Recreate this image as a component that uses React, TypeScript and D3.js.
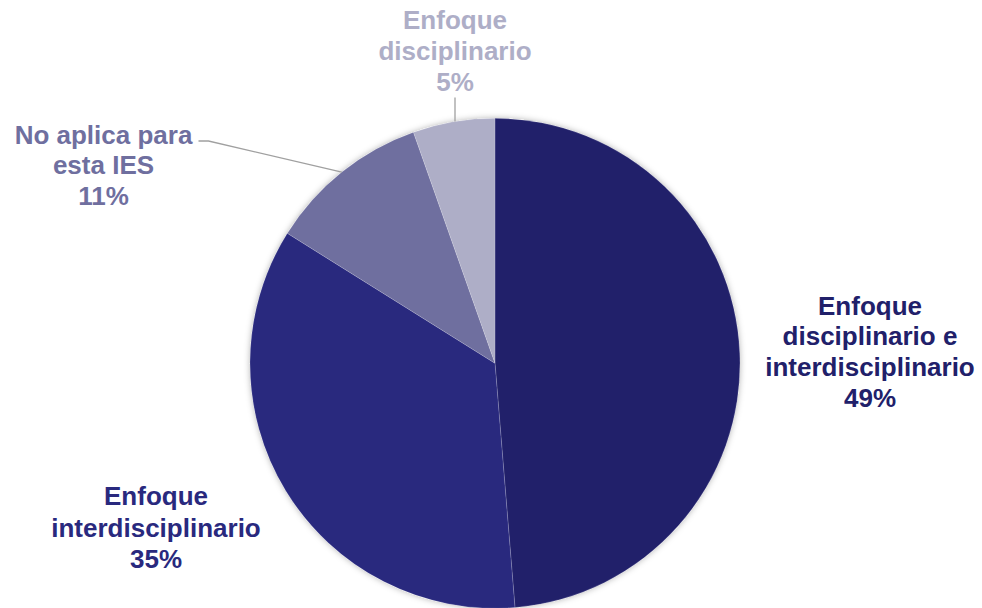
import React from "react";
import * as d3 from "d3";

const categories = [
  "Enfoque disciplinario e interdisciplinario",
  "Enfoque interdisciplinario",
  "No aplica para esta IES",
  "Enfoque disciplinario",
];
const values = [48.7, 35.2, 10.7, 5.4];
const labelLines = [
  ["Enfoque", "disciplinario e", "interdisciplinario"],
  ["Enfoque", "interdisciplinario"],
  ["No aplica para", "esta IES"],
  ["Enfoque", "disciplinario"],
];
const sliceColors = ["#21206a", "#29297e", "#6f6f9f", "#aeaec7"];

// layout
const W = 982;
const H = 608;
const CX = 495;
const CY = 363.3;
const R = 245;
const FONT = 26;
const labelLayout = [
  { x: 870, y: 314.5, lh: 30.8 },
  { x: 156, y: 505, lh: 31.6 },
  { x: 103.5, y: 143.5, lh: 30.5 },
  { x: 455, y: 28.5, lh: 31 },
];
const fmt = d3.format(".0f");

export default function App() {
  const pie = d3
    .pie<number>()
    .sort(null)
    .value((d) => d)
    .startAngle(0)
    .endAngle(2 * Math.PI);
  const arcs = pie(values);
  const arc = d3.arc<d3.PieArcDatum<number>>().innerRadius(0).outerRadius(R);

  // leader line for slice 3: from label to pie edge at the slice's mid angle
  const a3 = arcs[2];
  const mid3 = (a3.startAngle + a3.endAngle) / 2;
  const p3: [number, number] = [CX + R * Math.sin(mid3), CY - R * Math.cos(mid3)];
  const l3 = labelLayout[2];
  const leader3 = d3.line()([
    [l3.x + 95, l3.y - 2.5],
    [l3.x + 105, l3.y - 2.5],
    p3,
  ] as [number, number][]);

  // leader line for slice 4: vertical drop from label to pie edge
  const l4 = labelLayout[3];
  const lx4 = l4.x;
  const ly4 = CY - Math.sqrt(R * R - (lx4 - CX) * (lx4 - CX));
  const leader4 = d3.line()([
    [lx4, l4.y + 2 * l4.lh + 7],
    [lx4, ly4],
  ] as [number, number][]);

  return (
    <svg
      width={W}
      height={H}
      style={{ position: "absolute", left: 0, top: 0, background: "#fff" }}
      fontFamily="'Liberation Sans', Arial, sans-serif"
    >
      <defs>
        <filter id="shadow" x="-20%" y="-20%" width="140%" height="140%">
          <feDropShadow dx="0" dy="0" stdDeviation="3" floodColor="#000" floodOpacity="0.3" />
        </filter>
      </defs>
      <g transform={`translate(${CX},${CY})`}>
        <circle r={R} fill="#fff" filter="url(#shadow)" />
        {arcs.map((a, i) => (
          <path
            key={categories[i]}
            d={arc(a) || ""}
            fill={sliceColors[i]}
            stroke="#ffffff"
            strokeOpacity={0.25}
            strokeWidth={0.6}
          />
        ))}
      </g>
      <path d={leader3 || ""} fill="none" stroke="#a0a0a0" strokeWidth={1.3} />
      <path d={leader4 || ""} fill="none" stroke="#a0a0a0" strokeWidth={1.3} />
      {labelLayout.map((L, i) => {
        const lines = [...labelLines[i], `${fmt(values[i])}%`];
        return (
          <text
            key={categories[i]}
            x={L.x}
            y={L.y}
            textAnchor="middle"
            fontSize={FONT}
            fontWeight="bold"
            fill={sliceColors[i]}
          >
            {lines.map((t, j) => (
              <tspan key={j} x={L.x} y={L.y + j * L.lh}>
                {t}
              </tspan>
            ))}
          </text>
        );
      })}
    </svg>
  );
}
